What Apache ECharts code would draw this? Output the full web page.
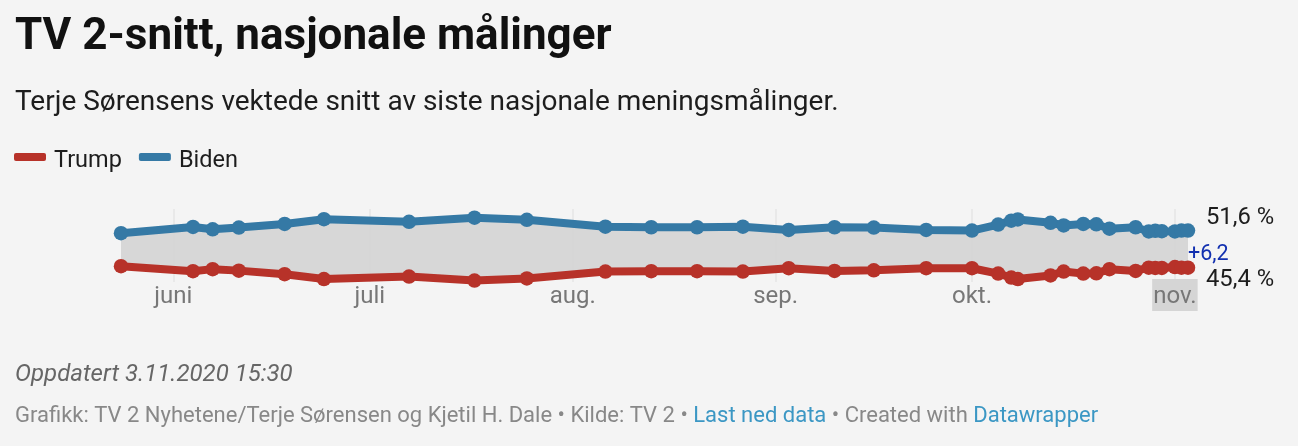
<!DOCTYPE html>
<html>
<head>
<meta charset="utf-8">
<style>
html, body { margin: 0; padding: 0; background: #f4f4f4; }
#main { width: 1298px; height: 446px; }
</style>
<script src="https://cdn.jsdelivr.net/npm/echarts@6/dist/echarts.min.js"></script>
</head>
<body>
<div id="main"></div>
<script>
const dates = ['2020-05-24', '2020-06-04', '2020-06-07', '2020-06-11', '2020-06-18', '2020-06-24',
    '2020-07-07', '2020-07-17', '2020-07-25', '2020-08-06', '2020-08-13', '2020-08-20', '2020-08-27',
    '2020-09-03', '2020-09-10', '2020-09-16', '2020-09-24', '2020-10-01', '2020-10-05', '2020-10-07',
    '2020-10-08', '2020-10-13', '2020-10-15', '2020-10-18', '2020-10-20', '2020-10-22', '2020-10-26',
    '2020-10-28', '2020-10-29', '2020-10-30', '2020-11-01', '2020-11-02', '2020-11-03'];
const biden = [51.15, 52.2, 51.8, 52.1, 52.7, 53.5, 53.05, 53.75, 53.4, 52.25, 52.15, 52.15, 52.25,
    51.7, 52.15, 52.1, 51.7, 51.6, 52.6, 53.25, 53.45, 52.9, 52.45, 52.7, 52.65, 51.9, 52.15,
    51.45, 51.55, 51.5, 51.45, 51.6, 51.6];
const trump = [45.65, 44.8, 45.15, 44.9, 44.3, 43.5, 43.9, 43.25, 43.6, 44.75, 44.8, 44.8, 44.75,
    45.3, 44.85, 44.95, 45.3, 45.3, 44.4, 43.75, 43.5, 44.1, 44.75, 44.4, 44.45, 45.15, 44.85,
    45.4, 45.35, 45.35, 45.5, 45.4, 45.4];
const tickDates = ['2020-06-01', '2020-07-01', '2020-08-01', '2020-09-01', '2020-10-01', '2020-11-01'];
const tickLabels = ['juni', 'juli', 'aug.', 'sep.', 'okt.', 'nov.'];

const FONT = 'Roboto';
const TRUMP_COLOR = '#b73229';
const BIDEN_COLOR = '#3579a5';

const toMs = d => Date.parse(d + 'T00:00:00Z');
const tickMs = tickDates.map(toMs);
const pairs = arr => dates.map((d, i) => [toMs(d), arr[i]]);
const comma = v => v.toFixed(1).replace('.', ',');
const last = dates.length - 1;

function lineSeries(name, values, color, offsetY) {
    return {
        name: name,
        type: 'line',
        data: pairs(values),
        z: 5,
        symbol: 'circle',
        symbolSize: 14.5,
        showSymbol: true,
        lineStyle: { color: color, width: 8 },
        itemStyle: { color: color },
        endLabel: {
            show: true,
            distance: 0,
            offset: [18, offsetY],
            color: '#1d1d1d',
            fontFamily: FONT,
            fontSize: 23.8,
            formatter: p => comma(p.value[1]) + ' %'
        },
        animation: false
    };
}

// flaten mellom de to linjene + differansen ved siste punkt
function renderBand(params, api) {
    if (params.dataIndex !== last) return null;
    const upper = dates.map((d, i) => api.coord([toMs(d), biden[i]]));
    const lower = dates.map((d, i) => api.coord([toMs(d), trump[i]])).reverse();
    const mid = api.coord([toMs(dates[last]), (biden[last] + trump[last]) / 2]);
    return {
        type: 'group',
        children: [
            { type: 'polygon', shape: { points: upper.concat(lower) }, style: { fill: 'rgba(212,212,212,0.92)' } },
            {
                type: 'text',
                x: mid[0],
                y: mid[1] + 6,
                style: {
                    text: '+' + comma(biden[last] - trump[last]),
                    fill: '#1230b0',
                    font: '21.5px ' + FONT,
                    align: 'left',
                    verticalAlign: 'middle'
                }
            }
        ]
    };
}

const chart = echarts.init(document.getElementById('main'), null, { renderer: 'canvas' });
chart.setOption({
    backgroundColor: '#f4f4f4',
    animation: false,
    textStyle: { fontFamily: FONT },
    title: [
        { text: 'TV 2-snitt, nasjonale målinger', left: 10, top: 11, textStyle: { fontFamily: FONT, fontSize: 44, fontWeight: 700, color: '#111' } },
        { text: 'Terje Sørensens vektede snitt av siste nasjonale meningsmålinger.', left: 10, top: 84, textStyle: { fontFamily: FONT, fontSize: 28, fontWeight: 400, color: '#1d1d1d' } },
        { text: 'Oppdatert 3.11.2020 15:30', left: 10, top: 358, textStyle: { fontFamily: FONT, fontSize: 24, fontWeight: 400, fontStyle: 'italic', color: '#666' } },
        {
            text: 'Grafikk: TV 2 Nyhetene/Terje Sørensen og Kjetil H. Dale • Kilde: TV 2 • {a|Last ned data} • Created with {a|Datawrapper}',
            left: 10, top: 400,
            textStyle: {
                fontFamily: FONT, fontSize: 22, fontWeight: 400, color: '#888',
                rich: { a: { fontFamily: FONT, fontSize: 22, color: '#3b97c4' } }
            }
        }
    ],
    legend: {
        data: ['Trump', 'Biden'],
        left: 9,
        top: 144,
        itemWidth: 32,
        itemHeight: 8,
        itemGap: 17,
        icon: 'roundRect',
        formatter: '{t|{name}}',
        textStyle: {
            rich: { t: { fontFamily: FONT, fontSize: 23.5, color: '#1d1d1d', padding: [8, 0, 0, 3] } }
        }
    },
    grid: { left: 121, right: 110, top: 209, height: 73 },
    xAxis: {
        type: 'value',
        min: toMs(dates[0]),
        max: toMs(dates[last]),
        axisLine: { show: false },
        axisTick: { show: false, customValues: tickMs },
        splitLine: { show: true, lineStyle: { color: '#e6e6e6', width: 1.5 } },
        axisLabel: {
            customValues: tickMs,
            margin: -3,
            hideOverlap: false,
            formatter: function (val) {
                const label = tickLabels[tickMs.indexOf(+val)];
                return (label === 'nov.' ? '{hl|' : '{n|') + label + '}';
            },
            rich: {
                n: { color: '#777', fontFamily: FONT, fontSize: 24, padding: [6, 1, 2, 1] },
                hl: { backgroundColor: '#d5d5d5', color: '#777', fontFamily: FONT, fontSize: 24, padding: [6, 1, 2, 1] }
            }
        }
    },
    yAxis: { type: 'value', min: 43, max: 55.2, show: false },
    series: [
        {
            name: 'gap',
            type: 'custom',
            data: pairs(trump),
            renderItem: renderBand,
            z: 2,
            animation: false
        },
        lineSeries('Trump', trump, TRUMP_COLOR, 12),
        lineSeries('Biden', biden, BIDEN_COLOR, -12)
    ]
});
</script>
</body>
</html>
